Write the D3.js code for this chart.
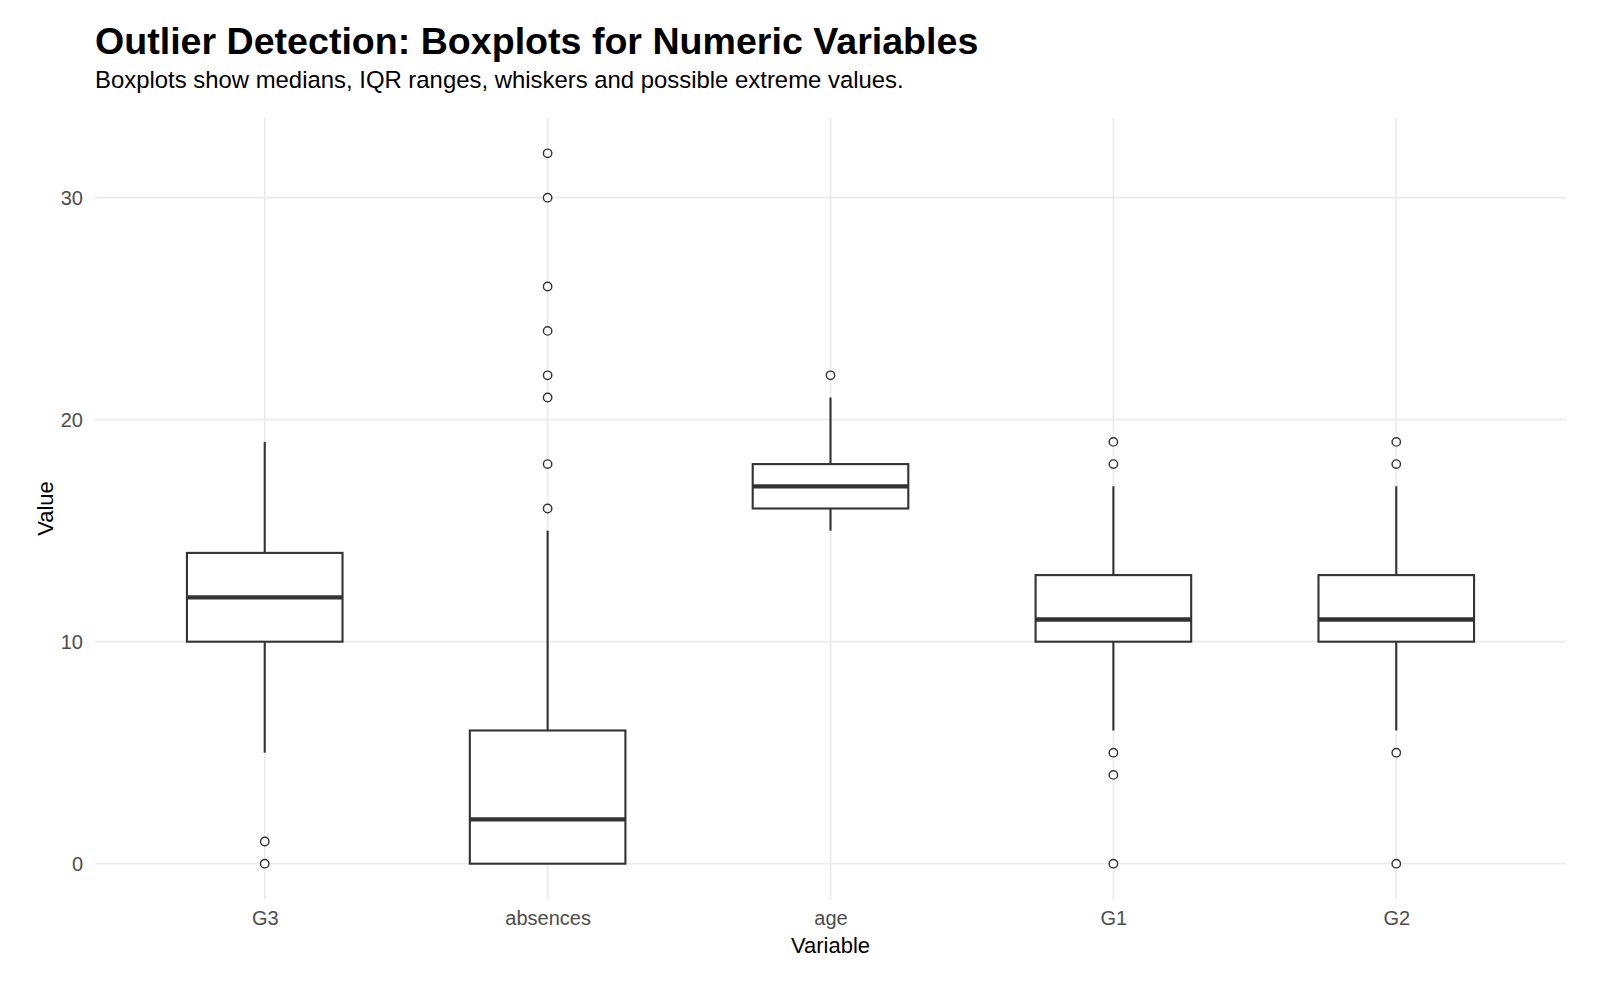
<!DOCTYPE html>
<html>
<head>
<meta charset="utf-8">
<script src="https://cdn.jsdelivr.net/npm/d3@7"></script>
<style>
  html, body { margin: 0; padding: 0; background: #ffffff; }
  svg { display: block; font-family: "Liberation Sans", Arial, Helvetica, sans-serif; }
</style>
</head>
<body>
<svg id="chart" width="1600" height="984"></svg>
<script>
// ---- Data ----
const categories   = ["G3", "absences", "age", "G1", "G2"];
const q1Values     = [10, 0, 16, 10, 10];
const medianValues = [12, 2, 17, 11, 11];
const q3Values     = [14, 6, 18, 13, 13];
const whiskerLow   = [5, 0, 15, 6, 6];
const whiskerHigh  = [19, 15, 21, 17, 17];
const outlierValues = [
  [1, 0],
  [16, 18, 21, 22, 24, 26, 30, 32],
  [22],
  [19, 18, 5, 4, 0],
  [19, 18, 5, 0]
];
const yTickValues = [0, 10, 20, 30];

const titleText = "Outlier Detection: Boxplots for Numeric Variables";
const subtitleText = "Boxplots show medians, IQR ranges, whiskers and possible extreme values.";
const xTitle = "Variable";
const yTitle = "Value";

// ---- Layout ----
const panel = { left: 95, right: 1566, top: 117.8, bottom: 899.2 };
const svg = d3.select("#chart");

const x = d3.scalePoint().domain(categories).range([panel.left, panel.right]).padding(0.6);
const y = d3.scaleLinear().domain([-1.6, 33.6]).range([panel.bottom, panel.top]);
const boxW = x.step() * 0.55;

const gridColor = "#ebebeb";
const ink = "#333333";

// gridlines
const grid = svg.append("g");
grid.selectAll("line.h").data(yTickValues).join("line")
  .attr("x1", panel.left).attr("x2", panel.right)
  .attr("y1", d => y(d)).attr("y2", d => y(d))
  .attr("stroke", gridColor).attr("stroke-width", 1.8);
grid.selectAll("line.v").data(categories).join("line")
  .attr("x1", d => x(d)).attr("x2", d => x(d))
  .attr("y1", panel.top).attr("y2", panel.bottom)
  .attr("stroke", gridColor).attr("stroke-width", 1.8);

// axes (labels only)
const yAxis = svg.append("g")
  .attr("transform", `translate(${panel.left - 12},0)`)
  .call(d3.axisLeft(y).tickValues(yTickValues).tickSize(0).tickPadding(0));
yAxis.select(".domain").remove();
yAxis.selectAll("text")
  .attr("fill", "#4d4d4d").style("font-size", "20px")
  .style("font-family", "'Liberation Sans', Arial, sans-serif")
  .attr("dy", "0.36em");

const xAxis = svg.append("g")
  .attr("transform", `translate(0,${panel.bottom + 12})`)
  .call(d3.axisBottom(x).tickSize(0).tickPadding(0));
xAxis.select(".domain").remove();
xAxis.selectAll("text")
  .attr("fill", "#4d4d4d").style("font-size", "20px")
  .style("font-family", "'Liberation Sans', Arial, sans-serif")
  .attr("dy", "0.71em");

// boxplots
const data = categories.map((c, i) => ({
  c, q1: q1Values[i], med: medianValues[i], q3: q3Values[i],
  lo: whiskerLow[i], hi: whiskerHigh[i], out: outlierValues[i]
}));

const g = svg.append("g");
const boxes = g.selectAll("g.box").data(data).join("g").attr("class", "box");

boxes.append("line")
  .attr("x1", d => x(d.c)).attr("x2", d => x(d.c))
  .attr("y1", d => y(d.q3)).attr("y2", d => y(d.hi))
  .attr("stroke", ink).attr("stroke-width", 2.1);
boxes.append("line")
  .attr("x1", d => x(d.c)).attr("x2", d => x(d.c))
  .attr("y1", d => y(d.q1)).attr("y2", d => y(d.lo))
  .attr("stroke", ink).attr("stroke-width", 2.1);
boxes.append("rect")
  .attr("x", d => x(d.c) - boxW / 2).attr("width", boxW)
  .attr("y", d => y(d.q3)).attr("height", d => y(d.q1) - y(d.q3))
  .attr("fill", "#ffffff").attr("stroke", ink).attr("stroke-width", 2.1);
boxes.append("line")
  .attr("x1", d => x(d.c) - boxW / 2).attr("x2", d => x(d.c) + boxW / 2)
  .attr("y1", d => y(d.med)).attr("y2", d => y(d.med))
  .attr("stroke", ink).attr("stroke-width", 4.3);

boxes.selectAll("circle").data(d => d.out.map(v => ({ c: d.c, v }))).join("circle")
  .attr("cx", d => x(d.c)).attr("cy", d => y(d.v)).attr("r", 4.2)
  .attr("fill", "#ffffff").attr("stroke", ink).attr("stroke-width", 1.4);

// titles
svg.append("text").attr("x", 95).attr("y", 54)
  .style("font-size", "37.6px").style("font-weight", "bold").attr("fill", "#000000")
  .text(titleText);
svg.append("text").attr("x", 95).attr("y", 88)
  .style("font-size", "23.9px").attr("fill", "#000000")
  .text(subtitleText);

svg.append("text").attr("x", (panel.left + panel.right) / 2).attr("y", 953)
  .attr("text-anchor", "middle").style("font-size", "22px").attr("fill", "#000000")
  .text(xTitle);
svg.append("text")
  .attr("transform", `translate(53,${(panel.top + panel.bottom) / 2}) rotate(-90)`)
  .attr("text-anchor", "middle").style("font-size", "22px").attr("fill", "#000000")
  .text(yTitle);
</script>
</body>
</html>
